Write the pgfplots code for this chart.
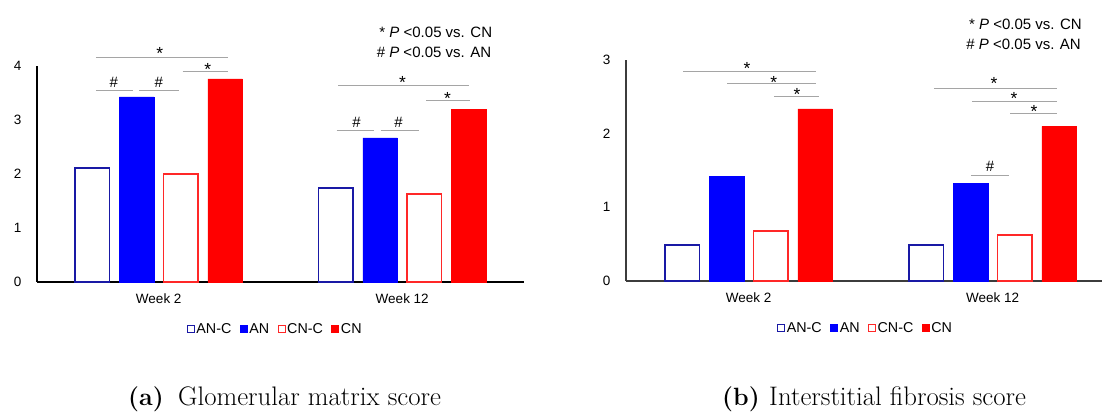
\documentclass[border=0pt]{standalone}
\usepackage{fontspec}
\usepackage{pgfplots}
\pgfplotsset{compat=1.18}
\newfontfamily\arial{Liberation Sans}
\definecolor{navy}{RGB}{25,25,165}
\definecolor{pblue}{RGB}{0,0,255}
\definecolor{lred}{RGB}{255,40,40}
\definecolor{pred}{RGB}{255,0,0}
\definecolor{sig}{RGB}{165,165,165}
\definecolor{axgray}{RGB}{60,60,60}
\pgfplotsset{
  bstyle/.style={
    scale only axis, ybar=9.7pt, bar width=34.5pt, ymin=0,
    xtick={0,1}, xticklabels={Week 2, Week 12},
    axis x line=bottom, axis y line=left,
    axis line style={-, line width=1.4pt},
    major tick length=0pt, tick style={draw=none},
    clip=false, enlargelimits=false,
    tick label style={font=\fontsize{13.5}{16}\arial},
    /pgf/number format/assume math mode=true,
    yticklabel style={anchor=east, inner sep=0pt, xshift=-15.5pt},
    xticklabel style={anchor=base, inner sep=0pt, yshift=-22pt},
    legend columns=4,
    legend style={draw=none, fill=none, inner sep=0pt, font=\fontsize{14.3}{16}\arial,
      /tikz/every even column/.append style={column sep=7pt}, nodes={inner sep=1.5pt}},
    legend image code/.code={\draw[#1, line width=1pt] (0pt,-3.2pt) rectangle (7pt,3.8pt);},
  },
  anc/.style={draw=navy, fill=white, line width=1.5pt},
  an/.style={draw=pblue, fill=pblue},
  cnc/.style={draw=lred, fill=white, line width=1.5pt},
  cn/.style={draw=pred, fill=pred},
}
\tikzset{
  sigl/.style={draw=sig, line width=0.9pt},
  sm/.style={anchor=base, inner sep=0pt, font=\fontsize{17.5}{20}\arial},
  sh/.style={anchor=base, inner sep=0pt, font=\fontsize{15}{18}\arial},
  st/.style={anchor=base east, inner sep=0pt, font=\fontsize{15}{18}\arial},
  captxt/.style={anchor=base west, inner sep=0pt, font=\fontsize{26.8}{30}\selectfont},
  caplab/.style={anchor=base west, inner sep=0pt, font=\fontsize{25}{30}\selectfont\bfseries},
}
\begin{document}
\begin{tikzpicture}
\useasboundingbox (0pt,0pt) rectangle (1102pt,412pt);
% ---------------- (a) ----------------
\begin{axis}[bstyle, at={(37pt,130pt)}, anchor=south west,
  width=487pt, height=216pt, xmin=-0.5, xmax=1.5, ymax=4, ytick={0,1,2,3,4},
  axis line style={draw=black},
  legend style={at={(0.4887,-0.2176)}, anchor=center}]
\addplot[anc] coordinates {(0,2.11) (1,1.74)};
\addplot[an]  coordinates {(0,3.43) (1,2.67)};
\addplot[cnc] coordinates {(0,2.00) (1,1.63)};
\addplot[cn]  coordinates {(0,3.76) (1,3.20)};
\legend{AN-C, AN, CN-C, CN}
\draw[sigl] (axis cs:-0.258,4.16) -- (axis cs:0.283,4.16);
\node[sm] at (axis cs:0.004,4.125) {*};
\draw[sigl] (axis cs:0.098,3.90) -- (axis cs:0.283,3.90);
\node[sm] at (axis cs:0.201,3.828) {*};
\draw[sigl] (axis cs:-0.258,3.55) -- (axis cs:-0.107,3.55);
\node[sh] at (axis cs:-0.185,3.604) {\#};
\draw[sigl] (axis cs:-0.082,3.54) -- (axis cs:0.082,3.54);
\node[sh] at (axis cs:0.0,3.604) {\#};
\draw[sigl] (axis cs:0.738,3.64) -- (axis cs:1.276,3.64);
\node[sm] at (axis cs:1.001,3.588) {*};
\draw[sigl] (axis cs:1.099,3.37) -- (axis cs:1.28,3.37);
\node[sm] at (axis cs:1.186,3.291) {*};
\draw[sigl] (axis cs:0.730,2.80) -- (axis cs:0.886,2.80);
\node[sh] at (axis cs:0.812,2.863) {\#};
\draw[sigl] (axis cs:0.911,2.80) -- (axis cs:1.067,2.80);
\node[sh] at (axis cs:0.985,2.863) {\#};
\node[st] at (axis cs:1.370,4.53) {* \textit{P} <0.05 vs. CN};
\node[st] at (axis cs:1.366,4.159) {\# \textit{P} <0.05 vs. AN};
\end{axis}
% ---------------- (b) ----------------
\begin{axis}[bstyle, at={(626pt,131pt)}, anchor=south west,
  width=476pt, height=221pt, xmin=-0.503, xmax=1.448, ymax=3, ytick={0,1,2,3},
  axis line style={draw=axgray},
  legend style={at={(0.503,-0.2127)}, anchor=center}]
\addplot[anc] coordinates {(0,0.49) (1,0.49)};
\addplot[an]  coordinates {(0,1.425) (1,1.33)};
\addplot[cnc] coordinates {(0,0.68) (1,0.625)};
\addplot[cn]  coordinates {(0,2.335) (1,2.10)};
\legend{AN-C, AN, CN-C, CN}
\draw[sigl] (axis cs:-0.269,2.846) -- (axis cs:0.276,2.846);
\node[sm] at (axis cs:-0.007,2.805) {*};
\draw[sigl] (axis cs:-0.089,2.684) -- (axis cs:0.276,2.684);
\node[sm] at (axis cs:0.103,2.614) {*};
\draw[sigl] (axis cs:0.103,2.502) -- (axis cs:0.288,2.502);
\node[sm] at (axis cs:0.198,2.452) {*};
\draw[sigl] (axis cs:0.759,2.620) -- (axis cs:1.263,2.620);
\node[sm] at (axis cs:1.005,2.601) {*};
\draw[sigl] (axis cs:0.915,2.443) -- (axis cs:1.263,2.443);
\node[sm] at (axis cs:1.087,2.397) {*};
\draw[sigl] (axis cs:1.071,2.276) -- (axis cs:1.263,2.276);
\node[sm] at (axis cs:1.169,2.221) {*};
\draw[sigl] (axis cs:0.911,1.439) -- (axis cs:1.067,1.439);
\node[sh] at (axis cs:0.989,1.488) {\#};
\node[st] at (axis cs:1.366,3.415) {* \textit{P} <0.05 vs. CN};
\node[st] at (axis cs:1.362,3.144) {\# \textit{P} <0.05 vs. AN};
\end{axis}
% ---------------- captions ----------------
\node[caplab] at (128pt,7pt) {(a)};
\node[captxt] at (178pt,7pt) {Glomerular matrix score};
\node[caplab] at (722pt,7pt) {(b)};
\node[captxt] at (769pt,7pt) {Interstitial fibrosis score};
\end{tikzpicture}
\end{document}
